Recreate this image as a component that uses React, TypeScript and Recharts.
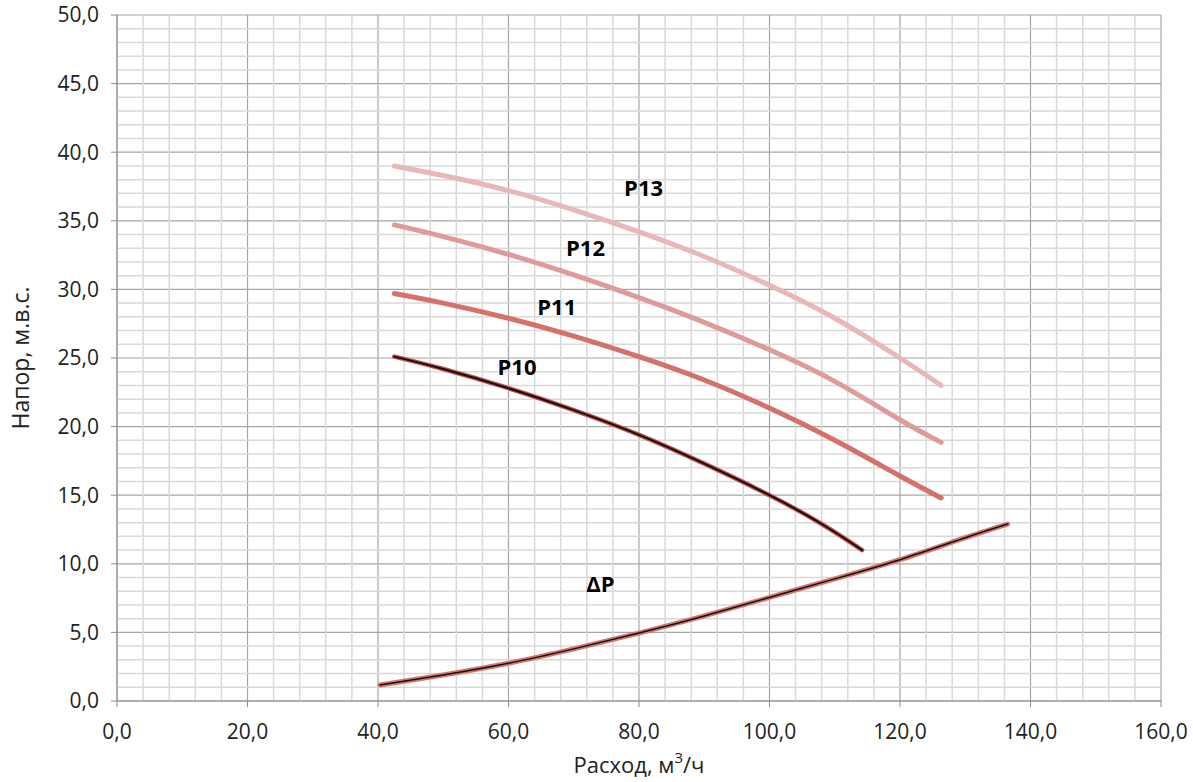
import { LineChart, Line, XAxis, YAxis, CartesianGrid, ReferenceLine, ReferenceDot } from 'recharts';

const xTicks = [0, 20, 40, 60, 80, 100, 120, 140, 160];
const yTicks = [0, 5, 10, 15, 20, 25, 30, 35, 40, 45, 50];
const minorX = [4, 8, 12, 16, 24, 28, 32, 36, 44, 48, 52, 56, 64, 68, 72, 76, 84, 88, 92, 96, 104, 108, 112, 116, 124, 128, 132, 136, 144, 148, 152, 156];
const minorY = [1, 2, 3, 4, 6, 7, 8, 9, 11, 12, 13, 14, 16, 17, 18, 19, 21, 22, 23, 24, 26, 27, 28, 29, 31, 32, 33, 34, 36, 37, 38, 39, 41, 42, 43, 44, 46, 47, 48, 49];

const p13 = [
  { q: 42.5, h: 39.0 }, { q: 50, h: 38.3 }, { q: 60, h: 37.2 }, { q: 70, h: 35.8 }, { q: 80, h: 34.2 },
  { q: 90, h: 32.4 }, { q: 100, h: 30.3 }, { q: 110, h: 27.9 }, { q: 120, h: 25.0 }, { q: 126.3, h: 23.0 },
];
const p12 = [
  { q: 42.5, h: 34.7 }, { q: 50, h: 33.85 }, { q: 60, h: 32.55 }, { q: 70, h: 31.05 }, { q: 80, h: 29.4 },
  { q: 90, h: 27.6 }, { q: 100, h: 25.6 }, { q: 110, h: 23.3 }, { q: 120, h: 20.5 }, { q: 126.3, h: 18.85 },
];
const p11 = [
  { q: 42.5, h: 29.7 }, { q: 50, h: 29.0 }, { q: 60, h: 27.9 }, { q: 70, h: 26.6 }, { q: 80, h: 25.1 },
  { q: 90, h: 23.4 }, { q: 100, h: 21.35 }, { q: 110, h: 19.0 }, { q: 120, h: 16.4 }, { q: 126.3, h: 14.8 },
];
const p10 = [
  { q: 42.5, h: 25.1 }, { q: 50, h: 24.2 }, { q: 60, h: 22.8 }, { q: 70, h: 21.2 }, { q: 80, h: 19.4 },
  { q: 90, h: 17.3 }, { q: 100, h: 15.0 }, { q: 108, h: 12.9 }, { q: 114.2, h: 11.0 },
];
const dP = [
  { q: 40.3, h: 1.17 }, { q: 50, h: 1.9 }, { q: 60, h: 2.75 }, { q: 70, h: 3.8 }, { q: 80, h: 4.95 },
  { q: 90, h: 6.2 }, { q: 100, h: 7.55 }, { q: 110, h: 8.9 }, { q: 120, h: 10.3 }, { q: 130, h: 11.9 }, { q: 136.5, h: 12.9 },
];

const curveLabels = [
  { name: 'P13', q: 80.7, h: 37.4 },
  { name: 'P12', q: 71.8, h: 33.0 },
  { name: 'P11', q: 67.4, h: 28.7 },
  { name: 'P10', q: 61.3, h: 24.3 },
  { name: 'ΔP', q: 74.1, h: 8.5 },
];

const font = '"Open Sans", sans-serif';
const fmt = (v: number) => v.toFixed(1).replace('.', ',');

function YTitle({ viewBox }: any) {
  const cy = viewBox.y + viewBox.height / 2;
  return (
    <text x={20} y={cy} transform={`rotate(-90, 20, ${cy})`} textAnchor="middle" dominantBaseline="central"
      fontFamily={font} fontSize={23} fill="#222">
      Напор, м.в.с.
    </text>
  );
}

function XTitle({ viewBox }: any) {
  const cx = viewBox.x + viewBox.width / 2;
  return (
    <text x={cx} y={773} textAnchor="middle" fontFamily={font} fontSize={22} fill="#222">
      Расход, м<tspan dy={-10} fontSize={15}>3</tspan><tspan dy={10}>/ч</tspan>
    </text>
  );
}

export default function App() {
  return (
    <div style={{ position: 'absolute', left: 0, top: 0, background: '#fff' }}>
      <LineChart width={1193} height={782} margin={{ top: 15, right: 32, left: 0, bottom: 0 }}>
        {minorX.map((v) => (
          <ReferenceLine key={'mx' + v} x={v} stroke="#d9d9d9" strokeWidth={1.5} />
        ))}
        {minorY.map((v) => (
          <ReferenceLine key={'my' + v} y={v} stroke="#d9d9d9" strokeWidth={1.5} />
        ))}
        <CartesianGrid stroke="#a6a6a6" strokeWidth={1.2} />
        <XAxis
          type="number"
          dataKey="q"
          domain={[0, 160]}
          ticks={xTicks}
          tickFormatter={fmt}
          height={81}
          tickSize={6}
          tickMargin={17}
          stroke="#8c8c8c"
          tick={{ fill: '#222', fontSize: 21, fontFamily: font }}
          allowDataOverflow
          label={<XTitle />}
        />
        <YAxis
          type="number"
          dataKey="h"
          domain={[0, 50]}
          ticks={yTicks}
          tickFormatter={fmt}
          width={117}
          tickSize={6}
          tickMargin={12}
          stroke="#8c8c8c"
          tick={{ fill: '#222', fontSize: 21, fontFamily: font }}
          label={<YTitle />}
        />
        <Line data={p13} dataKey="h" type="natural" stroke="#e8b7b7" strokeWidth={5} strokeLinecap="round" dot={false} isAnimationActive={false} />
        <Line data={p12} dataKey="h" type="natural" stroke="#de9b9b" strokeWidth={5} strokeLinecap="round" dot={false} isAnimationActive={false} />
        <Line data={p11} dataKey="h" type="natural" stroke="#d4716b" strokeWidth={5} strokeLinecap="round" dot={false} isAnimationActive={false} />
        <Line data={p10} dataKey="h" type="natural" stroke="#b8524e" strokeWidth={4.5} strokeLinecap="round" dot={false} isAnimationActive={false} />
        <Line data={p10} dataKey="h" type="natural" stroke="#1c0c0c" strokeWidth={2} strokeLinecap="round" dot={false} isAnimationActive={false} />
        <Line data={dP} dataKey="h" type="natural" stroke="#d4776f" strokeWidth={5} strokeLinecap="round" dot={false} isAnimationActive={false} />
        <Line data={dP} dataKey="h" type="natural" stroke="#111" strokeWidth={1.5} strokeLinecap="round" dot={false} isAnimationActive={false} />
        {curveLabels.map((l) => (
          <ReferenceDot
            key={l.name}
            x={l.q}
            y={l.h}
            r={0}
            fill="none"
            stroke="none"
            label={{ value: l.name, position: 'center', fontSize: 22, fontWeight: 700, fill: '#000', fontFamily: font }}
          />
        ))}
      </LineChart>
    </div>
  );
}
